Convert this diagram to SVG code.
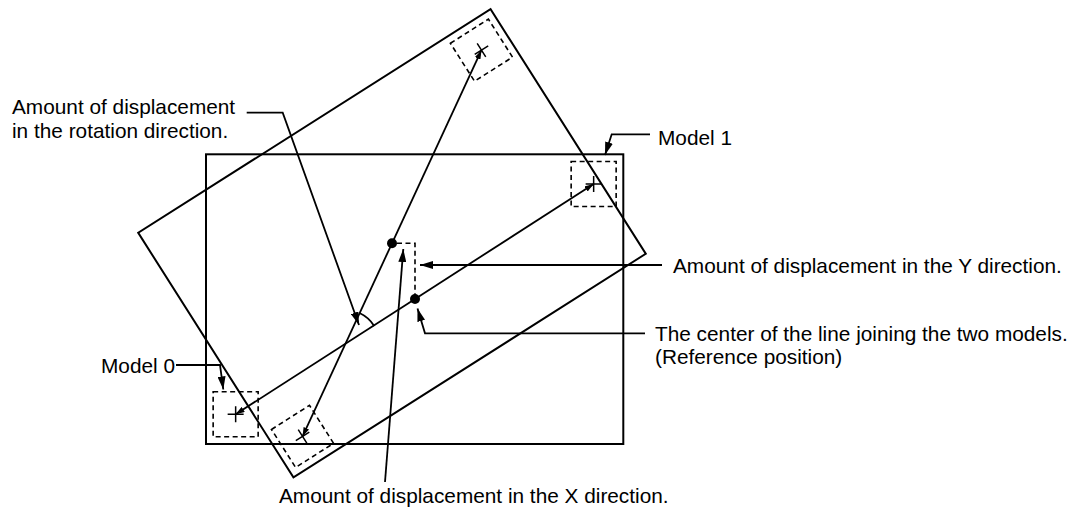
<svg xmlns="http://www.w3.org/2000/svg" width="1076" height="510" viewBox="0 0 1076 510">
  <style>
    .frame { fill: none; stroke: #000; stroke-width: 2; }
    .win { fill: none; stroke: #000; stroke-width: 1.6; stroke-dasharray: 5 3.5; }
    .cross { fill: none; stroke: #000; stroke-width: 1.5; }
    .ln { fill: none; stroke: #000; stroke-width: 1.8; }
    .dash { fill: none; stroke: #000; stroke-width: 1.6; stroke-dasharray: 5 3.5; }
    .dot { fill: #000; }
    text { font-family: "Liberation Sans", Arial, Helvetica, sans-serif; font-size: 20.8px; fill: #000; }
  </style>
  <defs>
    <marker id="ah" viewBox="0 0 13 8" refX="13" refY="4" markerWidth="13" markerHeight="8" markerUnits="userSpaceOnUse" orient="auto">
      <path d="M0,0 L13,4 L0,8 z" fill="#000"/>
    </marker>
    <marker id="ahs" viewBox="0 0 9 6" refX="9" refY="3" markerWidth="9" markerHeight="6" markerUnits="userSpaceOnUse" orient="auto">
      <path d="M0,0 L9,3 L0,6 z" fill="#000"/>
    </marker>
  </defs>

  <!-- Reference (unrotated) image frame with models -->
  <g id="reference-frame">
    <rect class="frame" x="206" y="154.3" width="417.3" height="289.7"/>
    <rect class="win" x="213.15" y="391.75" width="45" height="45"/>
    <path class="cross" d="M227.65,414.25 H243.65 M235.65,406.25 V422.25"/>
    <rect class="win" x="571.15" y="161.55" width="45" height="45"/>
    <path class="cross" d="M585.65,184.05 H601.65 M593.65,176.05 V192.05"/>
  </g>

  <!-- Rotated (measured) image frame with models -->
  <g id="rotated-frame" transform="translate(392 243.3) rotate(-32.4) translate(-414.65 -299.15)">
    <rect class="frame" x="206" y="154.3" width="417.3" height="289.7"/>
    <rect class="win" x="213.15" y="391.75" width="45" height="45"/>
    <path class="cross" d="M227.65,414.25 H243.65 M235.65,406.25 V422.25"/>
    <rect class="win" x="571.15" y="161.55" width="45" height="45"/>
    <path class="cross" d="M585.65,184.05 H601.65 M593.65,176.05 V192.05"/>
  </g>

  <!-- Connectors -->
  <g id="connectors">
    <line class="ln" x1="414.65" y1="299.15" x2="235.65" y2="414.25" marker-end="url(#ahs)"/>
    <line class="ln" x1="414.65" y1="299.15" x2="593.65" y2="184.05" marker-end="url(#ahs)"/>
    <line class="ln" x1="392" y1="243.3" x2="481.46" y2="50.2" marker-end="url(#ahs)"/>
    <line class="ln" x1="392" y1="243.3" x2="302.54" y2="436.4" marker-end="url(#ahs)"/>
    <polyline class="dash" points="397,243.3 415,243.3 415,296"/>
    <path class="ln" d="M359.5,313 A35,35 0 0 1 374.2,325.9"/>
    <polyline class="ln" points="246.7,112.7 282.7,112.7 359,325" marker-end="url(#ah)"/>
    <line class="ln" x1="385" y1="482" x2="403.3" y2="249" marker-end="url(#ah)"/>
    <line class="ln" x1="662" y1="265" x2="420" y2="265" marker-end="url(#ah)"/>
    <polyline class="ln" points="645,333.3 425,333.3 417.5,308.5" marker-end="url(#ah)"/>
    <polyline class="ln" points="650,134.3 611.7,134.3 605,155" marker-end="url(#ah)"/>
    <polyline class="ln" points="176,365 220,365 223.3,389.5" marker-end="url(#ah)"/>
  </g>

  <g id="centre-points">
    <circle class="dot" cx="392" cy="243.3" r="5"/>
    <circle class="dot" cx="415" cy="299" r="5"/>
  </g>

  <g id="labels">
    <text x="12" y="114">Amount of displacement</text>
    <text x="12" y="138">in the rotation direction.</text>
    <text x="658" y="145">Model 1</text>
    <text x="101" y="373">Model 0</text>
    <text x="673" y="273">Amount of displacement in the Y direction.</text>
    <text x="655" y="341">The center of the line joining the two models.</text>
    <text x="655" y="364">(Reference position)</text>
    <text x="279" y="503">Amount of displacement in the X direction.</text>
  </g>
</svg>
